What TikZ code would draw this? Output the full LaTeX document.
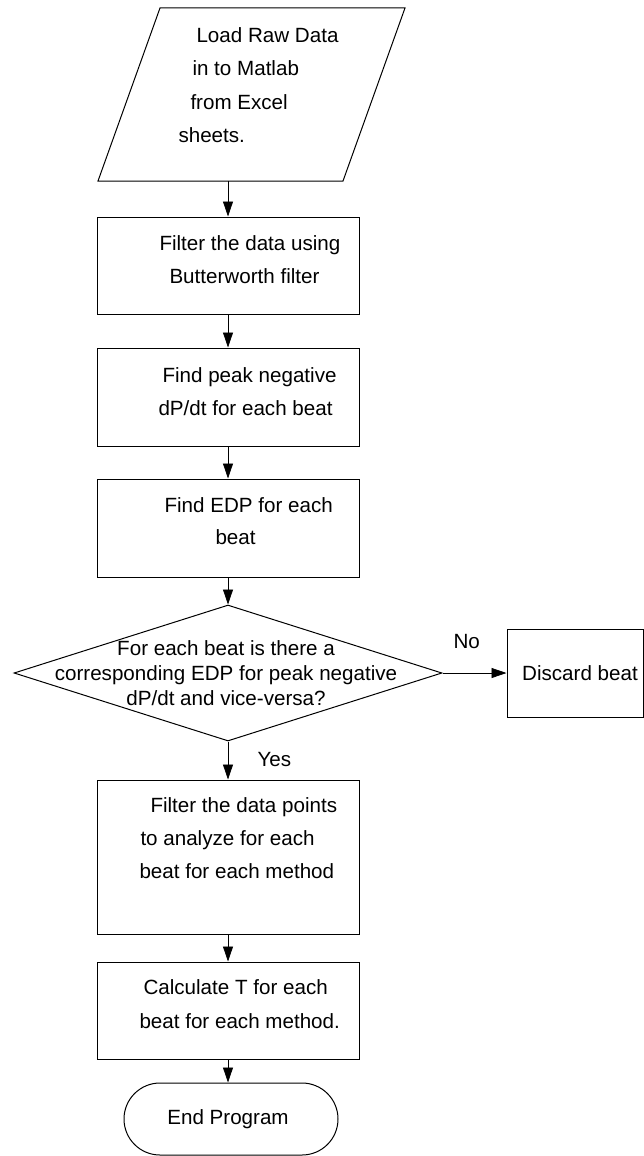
\documentclass[tikz,border=0pt]{standalone}
\usepackage{fontspec}
\setmainfont{Liberation Sans}
\usetikzlibrary{shapes.geometric,arrows.meta}
\newcommand{\setfs}[1]{\fontsize{20.6pt}{#1pt}\selectfont}
\begin{document}
\begin{tikzpicture}[x=1pt,y=-1pt,
  line width=1pt,
  procbox/.style={draw, rectangle, minimum width=262pt, inner sep=0pt},
  txt/.style={inner sep=0pt, anchor=north west, align=left},
  arr/.style={-{Triangle[length=15pt,width=10pt]}, line width=0.8pt},
  lbl/.style={inner sep=0pt, anchor=base west, font=\setfs{24}}
]
\fill[white] (0,0) rectangle (644,1156);
\useasboundingbox (0,0) rectangle (644,1156);

% input parallelogram
\draw (160,8) -- (405,8) -- (343,181) -- (98,181) -- cycle;
\coordinate (pin) at (228,181);
\node[txt, font=\setfs{33.3}] (t0) at (178,18.7)
  {\strut\hspace*{18pt}Load Raw Data\\\strut\hspace*{14pt}in to Matlab\\\strut\hspace*{12pt}from Excel\\\strut sheets.};

% process boxes
\node[procbox, minimum height=97pt] (b1) at (228,265.5) {};
\node[txt, font=\setfs{33}] (t1) at (159,226.9)
  {\strut Filter the data using\\\strut\hspace*{10pt}Butterworth filter};

\node[procbox, minimum height=98pt] (b2) at (228,397) {};
\node[txt, font=\setfs{33}] (t2) at (158,358.9)
  {\strut\hspace*{4pt}Find peak negative\\\strut dP/dt for each beat};

\node[procbox, minimum height=98pt] (b3) at (228,528) {};
\node[txt, font=\setfs{32}] (t3) at (164,489.6)
  {\strut Find EDP for each\\\strut\hspace*{51pt}beat};

% decision
\node[draw, diamond, minimum width=428pt, minimum height=136pt, inner sep=0pt] (dec) at (228,673) {};
\node[inner sep=0pt, anchor=north, align=center, font=\setfs{25}] (td) at (226,637.5)
  {\strut For each beat is there a\\\strut corresponding EDP for peak negative\\\strut dP/dt and vice-versa?};

\node[draw, minimum width=136pt, minimum height=88pt, inner sep=0pt, font=\setfs{24}] (dis) at (575,673)
  {\hspace*{10pt}Discard beat};

\node[procbox, minimum height=154pt] (b4) at (228,857) {};
\node[txt, font=\setfs{33}] (t4) at (139,788.9)
  {\strut\hspace*{11pt}Filter the data points\\\strut\hspace*{1pt}to analyze for each\\\strut beat for each method};

\node[procbox, minimum height=97pt] (b5) at (228,1010.5) {};
\node[txt, font=\setfs{34}] (t5) at (139,970.2)
  {\strut\hspace*{4pt}Calculate T for each\\\strut beat for each method.};

% terminal
\node[draw, rounded corners=36pt, minimum width=214pt, minimum height=72pt, inner sep=0pt, font=\setfs{24}] (term) at (231,1119)
  {End Program\hspace*{6pt}};

% connectors
\draw[arr] (pin) -- (b1.north);
\draw[arr] (b1.south) -- (b2.north);
\draw[arr] (b2.south) -- (b3.north);
\draw[arr] (b3.south) -- (dec.north);
\draw[arr] (dec.south) -- (b4.north);
\draw[arr] (b4.south) -- (b5.north);
\draw[arr] (b5.south) -- (b5.south |- term.north);
\draw[arr] (dec.east) -- (dis.west);

\node[lbl] (no) at (453,648) {No};
\node[lbl] (yes) at (257,766) {Yes};
\end{tikzpicture}
\end{document}
